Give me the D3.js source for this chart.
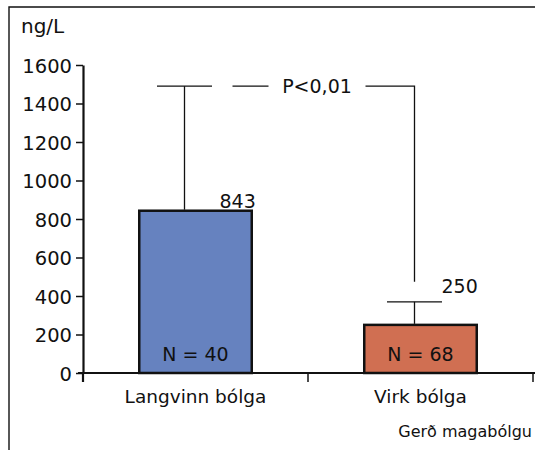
<!DOCTYPE html>
<html><head><meta charset="utf-8">
<script src="https://cdn.jsdelivr.net/npm/d3@7"></script>
<style>body{margin:0;background:#fff}svg{display:block}text{font-family:"DejaVu Sans",sans-serif;fill:#111}</style>
</head><body>
<svg id="c" width="535" height="450"></svg>
<script>
const categories = ["Langvinn bólga", "Virk bólga"];
const values = [843, 250];
const upperErr = [1490, 370];
const nLabels = ["N = 40", "N = 68"];
const valueLabels = ["843", "250"];
const yTicks = [0, 200, 400, 600, 800, 1000, 1200, 1400, 1600];
const colors = ["#6682BF", "#D06F52"];
const pText = "P<0,01";
const unitLabel = "ng/L";
const xTitle = "Gerð magabólgu";

const svg = d3.select("#c");
const y = d3.scaleLinear().domain([0, 1600]).range([373, 65]);
const x = d3.scaleBand().domain(categories).range([83, 533]).padding(0);
const bw = x.bandwidth() * 0.5;
const cx = c => x(c) + x.bandwidth() / 2;
const whiskerOffset = [-11, -6];

// frame
svg.append("path").attr("d", "M9,450V7H535").attr("fill", "none").attr("stroke", "#111").attr("stroke-width", 1.4);

// y axis
const ya = svg.append("g").attr("transform", "translate(83,0)")
  .call(d3.axisLeft(y).tickValues(yTicks).tickFormat(d3.format("d")).tickSize(7).tickSizeOuter(0).tickPadding(4));
ya.select(".domain").attr("stroke", "#111").attr("stroke-width", 2.2);
ya.selectAll(".tick line").attr("stroke", "#111").attr("stroke-width", 1.5);
ya.selectAll(".tick text").attr("font-size", 19.5).attr("font-family", "DejaVu Sans").attr("fill", "#111").attr("dy", "0.36em");

// x axis
const xb = [83, ...categories.map(c => x(c) + x.bandwidth())];
svg.append("line").attr("x1", 78).attr("x2", 535).attr("y1", y(0)).attr("y2", y(0)).attr("stroke", "#111").attr("stroke-width", 2.2);
svg.selectAll(".xt").data(xb).join("line").attr("x1", d => d).attr("x2", d => d)
  .attr("y1", y(0)).attr("y2", y(0) + 9).attr("stroke", "#111").attr("stroke-width", d => d === 83 ? 2.2 : 1.5);

// bars
svg.selectAll(".bar").data(categories).join("rect")
  .attr("x", c => cx(c) - bw / 2).attr("width", bw)
  .attr("y", (c, i) => y(values[i])).attr("height", (c, i) => y(0) - y(values[i]))
  .attr("fill", (c, i) => colors[i]).attr("stroke", "#111").attr("stroke-width", 2.5);

// error bars
categories.forEach((c, i) => {
  const wx = cx(c) + whiskerOffset[i];
  svg.append("line").attr("x1", wx).attr("x2", wx).attr("y1", y(values[i]) - 1).attr("y2", y(upperErr[i]))
    .attr("stroke", "#111").attr("stroke-width", 1.3);
  svg.append("line").attr("x1", wx - 27.5).attr("x2", wx + 27.5).attr("y1", y(upperErr[i])).attr("y2", y(upperErr[i]))
    .attr("stroke", "#111").attr("stroke-width", 1.3);
});

// significance bracket
const by = y(upperErr[0]);
const w1 = cx(categories[0]) + whiskerOffset[0];
const w2 = cx(categories[1]) + whiskerOffset[1];
svg.append("line").attr("x1", w1 + 48).attr("x2", w1 + 84).attr("y1", by).attr("y2", by).attr("stroke", "#111").attr("stroke-width", 1.3);
svg.append("path").attr("d", `M${w2 - 49},${by}H${w2}V${y(upperErr[1]) - 20}`).attr("fill", "none").attr("stroke", "#111").attr("stroke-width", 1.3);
svg.append("text").attr("x", (w1 + 84 + w2 - 49) / 2).attr("y", by + 7).attr("text-anchor", "middle").attr("font-size", 19).text(pText);

// value labels
svg.append("text").attr("x", cx(categories[0]) + 24).attr("y", y(values[0]) - 3).attr("font-size", 19).text(valueLabels[0]);
svg.append("text").attr("x", cx(categories[1]) + 21).attr("y", y(upperErr[1]) - 9).attr("font-size", 19).text(valueLabels[1]);

// N labels
svg.selectAll(".nl").data(categories).join("text")
  .attr("x", c => cx(c)).attr("y", y(0) - 12).attr("text-anchor", "middle").attr("font-size", 19)
  .text((c, i) => nLabels[i]);

// category labels
svg.selectAll(".cl").data(categories).join("text")
  .attr("x", c => cx(c)).attr("y", 402.5).attr("text-anchor", "middle").attr("font-size", 18.5)
  .text(c => c);

svg.append("text").attr("x", 532).attr("y", 437).attr("text-anchor", "end").attr("font-size", 16).text(xTitle);
svg.append("text").attr("x", 21).attr("y", 33).attr("font-size", 20).text(unitLabel);
</script>
</body></html>
